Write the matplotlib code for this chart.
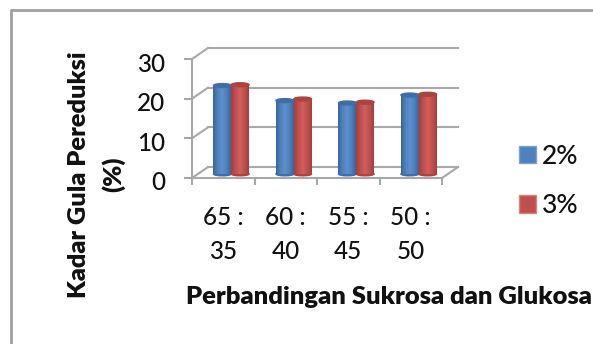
import matplotlib
matplotlib.use('Agg')
import matplotlib.pyplot as plt
import numpy as np
from matplotlib.colors import LinearSegmentedColormap
from matplotlib.lines import Line2D
from matplotlib.patches import Ellipse, Patch, Rectangle
from matplotlib.transforms import Affine2D

plt.rcParams['font.family'] = ['Lato', 'DejaVu Sans']

categories = ['65 :\n35', '60 :\n40', '55 :\n45', '50 :\n50']
series_names = ['2%', '3%']
values_2 = [22.3, 18.5, 17.9, 19.9]
values_3 = [22.5, 18.9, 18.1, 20.1]
y_ticks = [0, 10, 20, 30]

W, H = 593, 344
GRID = '#a8a8a8'
TEXT = '#111111'

fig = plt.figure(figsize=(W / 100, H / 100), dpi=100)
# plot area: front plane of the fake 3d box
ax = fig.add_axes([192 / W, 1 - 178 / H, 250 / W, 119 / H])
ax.patch.set_alpha(0)

back = ax.transData + Affine2D().translate(16, 11)
mid = ax.transData + Affine2D().translate(8, 4)

# outer chart frame, open at the bottom
fig.add_artist(Line2D([11 / W, 11 / W, 592 / W], [0, 1 - 10 / H, 1 - 10 / H],
                      color='#a0a0a0', lw=2))

# walls and floor, the slanted bits join the front plane to the back wall
depth_x = 16 / 62.5
depth_y = 11 / 3.97
for v in y_ticks:
    ax.plot([0, 4], [v, v], color=GRID, lw=1.5, transform=back, zorder=1, clip_on=False)
    ax.plot([0, depth_x], [v, v + depth_y], color=GRID, lw=1.5, zorder=1, clip_on=False)
ax.plot([4, 4 + depth_x], [0, depth_y], color=GRID, lw=1.5, zorder=1, clip_on=False)


def cylinder(x0, width, value, base, dark, light, edge):
    ax.add_patch(Ellipse((x0 + width / 2, 0), width, 0.9, color=edge, transform=mid,
                         zorder=3, clip_on=False))
    body = ax.bar(x0, value, width, align='edge', color=base, transform=mid, zorder=3,
                  clip_on=False)[0]
    cmap = LinearSegmentedColormap.from_list('cyl', [dark, base, light, base, dark])
    im = ax.imshow(np.linspace(0, 1, 64).reshape(1, -1), cmap=cmap, aspect='auto',
                   extent=(x0, x0 + width, 0, value), transform=mid, zorder=4)
    im.set_clip_path(Rectangle((x0, 0), width, value, transform=mid))
    ax.add_patch(Ellipse((x0 + width / 2, value), width, 1.0, color=edge, transform=mid,
                         zorder=5, clip_on=False))
    return body


bar_w = 0.285
for i in range(len(categories)):
    cylinder(i + 0.5 - bar_w, bar_w, values_2[i], '#4f81bd', '#3a659c', '#5e90cf', '#3f6da6')
    cylinder(i + 0.5, bar_w, values_3[i], '#c0504d', '#a53f3c', '#d2605c', '#ac4340')

ax.set_xlim(0, 4)
ax.set_ylim(0, 30)

ax.spines[['top', 'right']].set_visible(False)
ax.spines[['left', 'bottom']].set_color(GRID)
ax.spines[['left', 'bottom']].set_linewidth(1.5)

ax.set_yticks(y_ticks)
ax.tick_params(axis='y', length=6, width=1.5, color=GRID, labelsize=17.5,
               labelcolor=TEXT, pad=13)
# value labels sit a little under their ticks
for label in ax.get_yticklabels():
    label.set_fontweight('medium')
    label.set_transform(label.get_transform() + Affine2D().translate(0, -3))
ax.set_xticks(range(5))
ax.set_xticklabels([])
ax.tick_params(axis='x', which='major', length=5, width=1.5, color=GRID)
ax.set_xticks(np.arange(4) + 0.5, minor=True)
ax.set_xticklabels(categories, minor=True, fontsize=17.5, color=TEXT, linespacing=1.6,
                   fontweight='medium')
ax.tick_params(axis='x', which='minor', length=0, pad=20)

fig.text(79 / W, 1 - 175 / H, 'Kadar Gula Pereduksi', rotation=90, ha='center', va='center',
         fontsize=18.3, fontweight='heavy', color=TEXT)
fig.text(113 / W, 1 - 174 / H, '(%)', rotation=90, ha='center', va='center',
         fontsize=18.3, fontweight='heavy', color=TEXT)
fig.text(186 / W, 1 - 297 / H, 'Perbandingan Sukrosa dan Glukosa', ha='left', va='center',
         fontsize=18.35, fontweight='heavy', color=TEXT)

handles = [Patch(facecolor='#4f81bd', edgecolor='#7fa3d0', label=series_names[0]),
           Patch(facecolor='#c0504d', edgecolor='#d48583', label=series_names[1])]
fig.legend(handles=handles, loc='upper left', bbox_to_anchor=(495 / W, 1 - 120 / H),
           frameon=False, handlelength=0.66, handleheight=0.66, handletextpad=0.2,
           labelspacing=0.92, labelcolor=TEXT, prop={'size': 19, 'weight': 'medium'})

fig.savefig('out.png', dpi=100)
